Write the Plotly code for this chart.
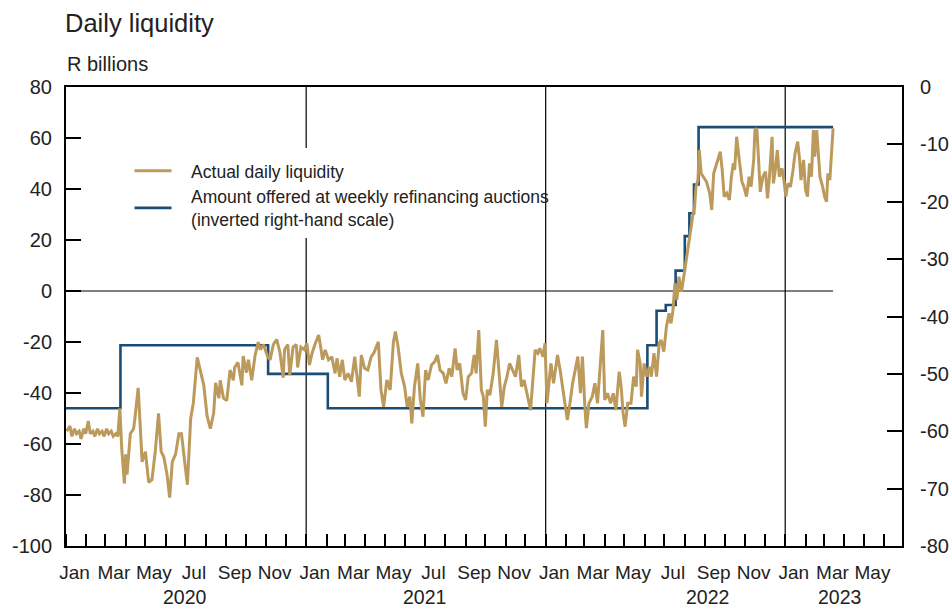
import pandas as pd
import plotly.graph_objects as go

# Actual daily liquidity, R billions (left scale)
liq_dates = [
    "2020-01-02", "2020-01-07", "2020-01-10", "2020-01-14", "2020-01-17", "2020-01-21", "2020-01-24",
    "2020-01-28", "2020-01-31", "2020-02-04", "2020-02-07", "2020-02-11", "2020-02-14", "2020-02-18",
    "2020-02-21", "2020-02-25", "2020-02-28", "2020-03-03", "2020-03-06", "2020-03-10", "2020-03-13",
    "2020-03-17", "2020-03-20", "2020-03-23", "2020-03-26", "2020-03-30", "2020-04-01", "2020-04-03",
    "2020-04-08", "2020-04-13", "2020-04-15", "2020-04-20", "2020-04-26", "2020-05-01", "2020-05-06",
    "2020-05-11", "2020-05-16", "2020-05-21", "2020-05-25", "2020-05-29", "2020-06-03", "2020-06-07",
    "2020-06-11", "2020-06-16", "2020-06-21", "2020-06-25", "2020-06-29", "2020-07-04", "2020-07-09",
    "2020-07-13", "2020-07-19", "2020-07-24", "2020-07-29", "2020-08-03", "2020-08-08", "2020-08-13",
    "2020-08-16", "2020-08-21", "2020-08-23", "2020-08-28", "2020-09-02", "2020-09-07", "2020-09-12",
    "2020-09-14", "2020-09-19", "2020-09-25", "2020-09-27", "2020-10-02", "2020-10-05", "2020-10-10",
    "2020-10-15", "2020-10-20", "2020-10-23", "2020-10-28", "2020-11-03", "2020-11-07", "2020-11-12",
    "2020-11-17", "2020-11-22", "2020-11-27", "2020-11-29", "2020-12-04", "2020-12-07", "2020-12-12",
    "2020-12-17", "2020-12-19", "2020-12-24", "2020-12-29",
    "2021-01-02", "2021-01-06", "2021-01-10", "2021-01-15", "2021-01-20", "2021-01-23", "2021-01-26",
    "2021-01-30", "2021-02-04", "2021-02-09", "2021-02-14", "2021-02-17", "2021-02-21", "2021-02-25",
    "2021-03-01", "2021-03-06", "2021-03-11", "2021-03-16", "2021-03-23", "2021-03-26", "2021-03-31",
    "2021-04-05", "2021-04-10", "2021-04-14", "2021-04-18", "2021-04-21", "2021-04-25", "2021-04-29",
    "2021-05-04", "2021-05-09", "2021-05-14", "2021-05-17", "2021-05-21", "2021-05-26", "2021-05-31",
    "2021-06-04", "2021-06-08", "2021-06-11", "2021-06-15", "2021-06-20", "2021-06-24", "2021-06-28",
    "2021-07-02", "2021-07-06", "2021-07-11", "2021-07-16", "2021-07-20", "2021-07-24", "2021-07-29",
    "2021-08-02", "2021-08-07", "2021-08-11", "2021-08-16", "2021-08-19", "2021-08-23", "2021-08-28",
    "2021-09-01", "2021-09-05", "2021-09-10", "2021-09-14", "2021-09-17", "2021-09-21", "2021-09-25",
    "2021-09-28", "2021-10-01", "2021-10-04", "2021-10-08", "2021-10-13", "2021-10-18", "2021-10-22",
    "2021-10-26", "2021-10-30", "2021-11-03", "2021-11-07", "2021-11-11", "2021-11-16", "2021-11-21",
    "2021-11-25", "2021-11-29", "2021-12-04", "2021-12-09", "2021-12-13", "2021-12-16", "2021-12-20",
    "2021-12-23", "2021-12-28", "2021-12-31",
    "2022-01-03", "2022-01-06", "2022-01-09", "2022-01-13", "2022-01-19", "2022-01-23", "2022-01-27",
    "2022-01-30", "2022-02-03", "2022-02-07", "2022-02-11", "2022-02-15", "2022-02-19", "2022-02-23",
    "2022-02-26", "2022-03-02", "2022-03-04", "2022-03-08", "2022-03-13", "2022-03-17", "2022-03-21",
    "2022-03-25", "2022-03-29", "2022-04-01", "2022-04-05", "2022-04-10", "2022-04-14", "2022-04-18",
    "2022-04-23", "2022-04-26", "2022-04-29", "2022-05-02", "2022-05-06", "2022-05-11", "2022-05-15",
    "2022-05-19", "2022-05-21", "2022-05-25", "2022-05-27", "2022-05-31", "2022-06-04", "2022-06-08",
    "2022-06-11", "2022-06-15", "2022-06-19", "2022-06-23", "2022-06-26", "2022-06-30", "2022-07-04",
    "2022-07-08", "2022-07-11", "2022-07-14", "2022-07-17", "2022-07-20", "2022-07-23", "2022-07-27",
    "2022-07-31", "2022-08-04", "2022-08-08", "2022-08-10", "2022-08-13", "2022-08-16", "2022-08-18",
    "2022-08-21", "2022-08-23", "2022-08-26", "2022-08-30", "2022-09-03", "2022-09-08", "2022-09-11",
    "2022-09-14", "2022-09-18", "2022-09-21", "2022-09-24", "2022-09-27", "2022-09-30", "2022-10-04",
    "2022-10-08", "2022-10-11", "2022-10-14", "2022-10-16", "2022-10-19", "2022-10-23", "2022-10-27",
    "2022-10-30", "2022-11-03", "2022-11-07", "2022-11-10", "2022-11-14", "2022-11-16", "2022-11-19",
    "2022-11-21", "2022-11-24", "2022-11-28", "2022-12-02", "2022-12-05", "2022-12-08", "2022-12-12",
    "2022-12-14", "2022-12-17", "2022-12-20", "2022-12-23", "2022-12-27", "2022-12-30",
    "2023-01-02", "2023-01-05", "2023-01-09", "2023-01-13", "2023-01-16", "2023-01-20", "2023-01-23",
    "2023-01-25", "2023-01-29", "2023-02-01", "2023-02-04", "2023-02-07", "2023-02-10", "2023-02-13",
    "2023-02-15", "2023-02-18", "2023-02-21", "2023-02-23", "2023-02-27", "2023-03-02", "2023-03-05",
    "2023-03-07", "2023-03-10", "2023-03-13", "2023-03-15",
]
liq_values = [
    -55, -53, -57, -54, -56, -55, -58, -54, -56, -51, -56, -55, -57, -54,
    -56, -55, -57, -54, -56, -55, -57, -56, -57, -46, -62, -75.5, -64, -72,
    -56, -54, -50, -38, -67, -63, -75, -74, -63, -48, -63, -65, -72, -81,
    -67, -64, -56, -56, -65, -76, -50, -44, -26, -31, -37, -49, -54, -48,
    -36, -42, -35, -42, -43, -31, -35, -30, -28, -37, -25.5, -32, -27, -35,
    -25.5, -20, -23, -21, -25.5, -27, -21, -19, -24, -34, -23, -21, -33, -22,
    -21, -30, -22, -23,
    -20.5, -29, -24.4, -20.5, -17.3, -21.8, -27, -23.1, -27, -25.8, -32.3, -26.4, -33.6, -27,
    -34.9, -32.3, -35.6, -25.8, -41.4, -25.1, -30.3, -31, -25.8, -24.4, -21.8, -19.9, -38.8, -45.4,
    -34.9, -38.8, -19.9, -15.9, -21.8, -32.3, -37.5, -45.4, -41.4, -51.9, -37.5, -28.4, -42.7, -49.3,
    -31, -34.9, -29, -27.7, -25.1, -31, -32.3, -36.2, -30.3, -33.6, -22.5, -31, -28.4, -40.1,
    -42.7, -33.6, -32.3, -25.1, -32.3, -15.3, -38.8, -41.4, -53.2, -38.8, -40.8, -32.3, -19.2, -33.6,
    -45.4, -37.5, -33.6, -28.4, -31, -33.6, -25.1, -37.5, -34.9, -41.4, -46.7, -33, -23.1, -24.4,
    -22.5, -25.8, -20.5,
    -44, -36.2, -28.4, -36.2, -25.1, -31, -38.8, -42.7, -50.6, -44, -36.2, -31, -25.7, -40.1,
    -25.7, -46.7, -53.8, -44, -41.4, -36.2, -44, -29.7, -15.3, -42.7, -40.1, -44, -40.1, -46.7,
    -31.6, -37.5, -48, -53.2, -44, -44, -33.6, -37.5, -23.1, -28.4, -41.4, -28.4, -33.6, -29.7,
    -33.6, -24.4, -33.6, -20.5, -19.2, -23.8, -14, -8.7, -12.7, -7.5, 3, -3.5, 5.6, -0.3,
    6.9, 13.5, 20, 25.2, 29.2, 33.1, 40.9, 43.5, 55.3, 46.1, 44.2, 42.9, 38.3, 31.8,
    46.1, 49.4, 52.7, 54.6, 47.5, 37, 38.3, 35.7, 44.8, 50.1, 47.5, 60.5, 51.4, 42.9,
    40.9, 37, 44.8, 40.9, 51.4, 63.8, 63.1, 54, 38.9, 44.8, 46.8, 36.3, 44.8, 60.5,
    42.2, 47.5, 55.3, 44.8, 48.1, 43.5,
    37, 42.2, 40.9, 47.5, 54, 58.6, 51.4, 43.5, 51.4, 39.6, 37, 50.1, 44.8, 63.1,
    52.7, 63.1, 52.7, 44.8, 40.9, 37, 35, 46.1, 43.5, 57.9, 63.8,
]

# Amount offered at weekly refinancing auctions, inverted right-hand scale
auction_dates = [
    "2020-01-01", "2020-03-24", "2020-11-04", "2021-02-03", "2022-06-05", "2022-06-19",
    "2022-07-03", "2022-07-18", "2022-08-01", "2022-08-08", "2022-08-15", "2022-08-22", "2023-03-15",
]
auction_values = [-56, -45, -50, -56, -45, -39, -38, -32, -26, -22, -17, -7, -7]

month_names = ["Jan", "Feb", "Mar", "Apr", "May", "Jun", "Jul", "Aug", "Sep", "Oct", "Nov", "Dec"]
years = ["2020", "2021", "2022", "2023"]
year_label_dates = ["2020-07-01", "2021-07-01", "2022-09-05", "2023-03-25"]
left_ticks = [-100, -80, -60, -40, -20, 0, 20, 40, 60, 80]
right_ticks = [-80, -70, -60, -50, -40, -30, -20, -10, 0]

FONT = "Liberation Sans"
TXT = "#222222"
GOLD = "#BB9A5B"
BLUE = "#1B4D75"
PAD = "\u00a0\u00a0\u00a0"

# month ticks and labels
month_starts = pd.date_range("2020-01-01", "2023-06-01", freq="MS")
label_vals = [d + pd.Timedelta(days=13) for d in month_starts if d.month % 2 == 1]
label_text = [month_names[d.month - 1] for d in month_starts if d.month % 2 == 1]

fig = go.Figure()

fig.add_trace(go.Scatter(
    x=auction_dates, y=auction_values, yaxis="y", mode="lines", line_shape="hv",
    line=dict(color=BLUE, width=2.6), legendrank=2,
    name=PAD + "Amount offered at weekly refinancing auctions<br>" + PAD + "(inverted right-hand scale)"))

fig.add_trace(go.Scatter(
    x=liq_dates, y=liq_values, yaxis="y2", mode="lines",
    line=dict(color=GOLD, width=3), legendrank=1,
    name=PAD + "Actual daily liquidity"))

# zero line ends with the data
fig.add_shape(type="line", xref="x", yref="y2", x0="2020-01-01", x1=liq_dates[-1], y0=0, y1=0,
              line=dict(color="black", width=1), layer="below")

# year separators (first one broken by the legend)
fig.add_shape(type="line", xref="x", yref="paper", x0="2021-01-01", x1="2021-01-01", y0=0, y1=0.671,
              line=dict(color="black", width=1.2), layer="below")
fig.add_shape(type="line", xref="x", yref="paper", x0="2021-01-01", x1="2021-01-01", y0=0.867, y1=1,
              line=dict(color="black", width=1.2), layer="below")
for yr in ["2022-01-01", "2023-01-01"]:
    fig.add_shape(type="line", xref="x", yref="paper", x0=yr, x1=yr, y0=0, y1=1,
                  line=dict(color="black", width=1.2), layer="below")

for yl, yd in zip(years, year_label_dates):
    fig.add_annotation(x=yd, y=-0.1111, xref="x", yref="paper", text=yl, showarrow=False,
                       font=dict(family=FONT, size=19.5, color=TXT), yanchor="middle")

fig.add_annotation(x=-0.001, y=1.05, xref="paper", yref="paper", text="R billions", showarrow=False,
                   xanchor="left", yanchor="middle", font=dict(family=FONT, size=20, color=TXT))

fig.update_layout(
    width=950, height=607,
    margin=dict(l=66, r=48, t=87, b=61, autoexpand=False),
    paper_bgcolor="white", plot_bgcolor="white",
    title=dict(text="Daily liquidity", xref="container", yref="container", x=65 / 950, xanchor="left",
               y=1 - 23 / 607, yanchor="middle", font=dict(family=FONT, size=25.5, color=TXT)),
    font=dict(family=FONT, size=19, color=TXT),
    showlegend=True,
    legend=dict(x=0.076, y=0.8565, xanchor="left", yanchor="top", bgcolor="rgba(0,0,0,0)",
                font=dict(family=FONT, size=17.5, color=TXT), itemwidth=37, tracegroupgap=0),
    xaxis=dict(type="date", range=["2020-01-01", "2023-06-28"], showgrid=False, zeroline=False,
               showline=True, linecolor="black", linewidth=2, mirror=True, automargin=False,
               tickmode="array", tickvals=label_vals, ticktext=label_text, ticks="",
               ticklabelstandoff=8, tickfont=dict(family=FONT, size=19, color=TXT),
               minor=dict(tickmode="array", tickvals=list(month_starts), ticks="inside", ticklen=12,
                          tickwidth=2, tickcolor="black", showgrid=False)),
    yaxis=dict(side="right", range=[-80, 0], tickmode="array", tickvals=right_ticks,
               ticktext=[str(v) for v in right_ticks], showgrid=False, automargin=False,
               zeroline=False, showline=True, linecolor="black", linewidth=2,
               ticks="inside", ticklen=15, tickwidth=2, tickcolor="black", ticklabelstandoff=12,
               tickfont=dict(family=FONT, size=20, color=TXT)),
    yaxis2=dict(side="left", overlaying="y", range=[-100, 80], tickmode="array", tickvals=left_ticks,
                ticktext=[str(v) for v in left_ticks], automargin=False,
                showgrid=False, zeroline=False, showline=True, linecolor="black", linewidth=2,
                ticks="inside", ticklen=15, tickwidth=2, tickcolor="black", ticklabelstandoff=8,
                tickfont=dict(family=FONT, size=20, color=TXT)),
)

# the page gets no body margin or scrollbars, so the figure sits at the window's corner
fig.write_html("out.html", config={"displayModeBar": False},
               post_script="document.body.style.margin='0';document.documentElement.style.overflow='hidden';")
